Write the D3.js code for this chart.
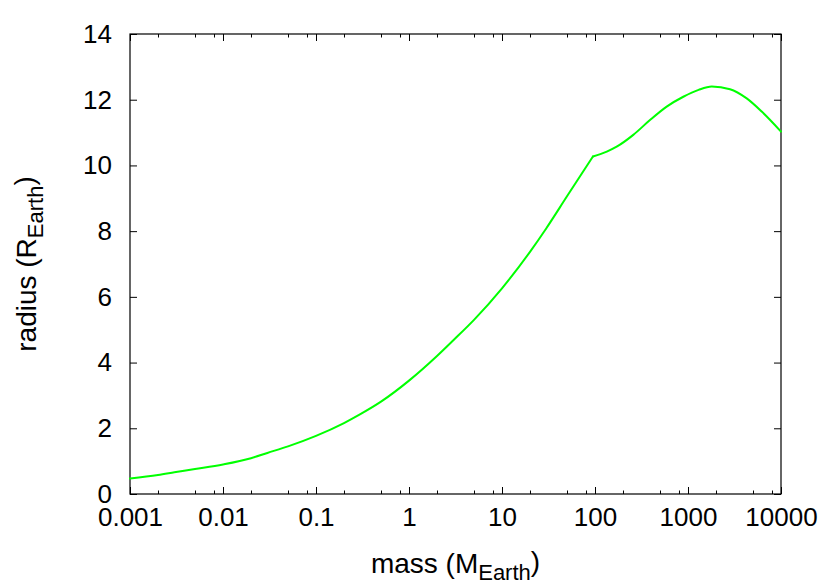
<!DOCTYPE html>
<meta charset="utf-8">
<script src="https://d3js.org/d3.v7.min.js"></script>
<style>
  body { margin: 0; background: #fff; }
  text { font-family: "Liberation Sans", Arial, Helvetica, sans-serif; }
</style>
<div id="chart"></div>
<script>

// mass (Earth masses) and radius (Earth radii)
var masses  = [0.001, 0.002, 0.003, 0.005, 0.01, 0.02, 0.03, 0.05, 0.1, 0.2, 0.3, 0.5,
               1, 2, 3, 5, 10, 20, 30, 50, 95, 134, 171, 258, 390, 590, 890, 1300,
               1800, 2830, 4280, 6200, 10000];
var radii   = [0.47, 0.58, 0.66, 0.76, 0.90, 1.09, 1.25, 1.45, 1.77, 2.16, 2.43, 2.81,
               3.45, 4.20, 4.68, 5.30, 6.26, 7.37, 8.09, 9.06, 10.27, 10.42, 10.57, 10.93, 11.38, 11.79, 12.09, 12.30,
               12.40, 12.32, 12.04, 11.64, 11.03];
var kinkMass = 95;   // the curve has a sharp bend here

var xTicks = [0.001, 0.01, 0.1, 1, 10, 100, 1000, 10000];
var xTickLabels = ["0.001", "0.01", "0.1", "1", "10", "100", "1000", "10000"];
var xMinorMult = [2, 5, 8];
var yTicks = [0, 2, 4, 6, 8, 10, 12, 14];

var margin = {top: 34, right: 49, bottom: 87, left: 130},
    width = 830 - margin.left - margin.right,
    height = 581 - margin.top - margin.bottom;

var svg = d3.select("#chart")
  .append("svg")
    .attr("width", 830)
    .attr("height", 581)
  .append("g")
    .attr("transform", "translate(" + margin.left + "," + margin.top + ")");

var x = d3.scaleLog().domain([0.001, 10000]).range([0, width]);
var y = d3.scaleLinear().domain([0, 14]).range([height, 0]);

// minor ticks at 2, 5, 8 of each decade
var minor = [];
xTicks.slice(0, -1).forEach(function(d) {
  xMinorMult.forEach(function(k) { minor.push(d * k); });
});

function styleAxis(g) {
  g.select(".domain").remove();
  g.selectAll("line").attr("stroke", "#000").attr("stroke-width", 1);
  g.selectAll("text").attr("fill", "#000").style("font-size", "26px")
    .style("font-family", "'Liberation Sans', Arial, Helvetica, sans-serif");
}

// bottom axis with labels
svg.append("g")
  .attr("transform", "translate(0," + height + ")")
  .call(d3.axisBottom(x).tickValues(xTicks).tickSize(-7).tickPadding(14)
    .tickFormat(function(d, i) { return xTickLabels[i]; }))
  .call(styleAxis);
svg.append("g")
  .attr("transform", "translate(0," + height + ")")
  .call(d3.axisBottom(x).tickValues(minor).tickSize(-3.5).tickFormat(""))
  .call(styleAxis);

// top axis (mirror ticks)
svg.append("g")
  .call(d3.axisTop(x).tickValues(xTicks).tickSize(-7).tickFormat(""))
  .call(styleAxis);
svg.append("g")
  .call(d3.axisTop(x).tickValues(minor).tickSize(-3.5).tickFormat(""))
  .call(styleAxis);

// left axis with labels
svg.append("g")
  .call(d3.axisLeft(y).tickValues(yTicks).tickSize(-7).tickPadding(18))
  .call(styleAxis);

// right axis (mirror ticks)
svg.append("g")
  .attr("transform", "translate(" + width + ",0)")
  .call(d3.axisRight(y).tickValues(yTicks).tickSize(-7).tickFormat(""))
  .call(styleAxis);

// frame
svg.append("rect")
  .attr("x", 0).attr("y", 0)
  .attr("width", width).attr("height", height)
  .attr("fill", "none")
  .attr("stroke", "#000")
  .attr("stroke-width", 1.2);

// the curve, smooth on both sides of the bend
var pts = masses.map(function(m, i) { return [m, radii[i]]; });
var line = d3.line()
  .curve(d3.curveMonotoneX)
  .x(function(d) { return x(d[0]); })
  .y(function(d) { return y(d[1]); });

var parts = [pts.filter(function(d) { return d[0] <= kinkMass; }),
             pts.filter(function(d) { return d[0] >= kinkMass; })];

svg.selectAll(".curve")
  .data(parts)
  .enter().append("path")
    .attr("class", "curve")
    .attr("fill", "none")
    .attr("stroke", "#00ff00")
    .attr("stroke-width", 2)
    .attr("stroke-linejoin", "round")
    .attr("stroke-linecap", "round")
    .attr("d", line);

// axis titles
var xt = svg.append("text")
  .attr("x", width / 2)
  .attr("y", 573 - margin.top)
  .attr("text-anchor", "middle")
  .style("font-size", "28px");
xt.append("tspan").text("mass (M");
xt.append("tspan").attr("dy", "0.3em").style("font-size", "22px").text("Earth");
xt.append("tspan").attr("dy", "-0.3em").text(")");

var yt = svg.append("text")
  .attr("transform", "translate(" + (36 - margin.left) + "," + (height / 2) + ") rotate(-90)")
  .attr("text-anchor", "middle")
  .style("font-size", "28px");
yt.append("tspan").text("radius (R");
yt.append("tspan").attr("dy", "0.3em").style("font-size", "22px").text("Earth");
yt.append("tspan").attr("dy", "-0.3em").text(")");

</script>
